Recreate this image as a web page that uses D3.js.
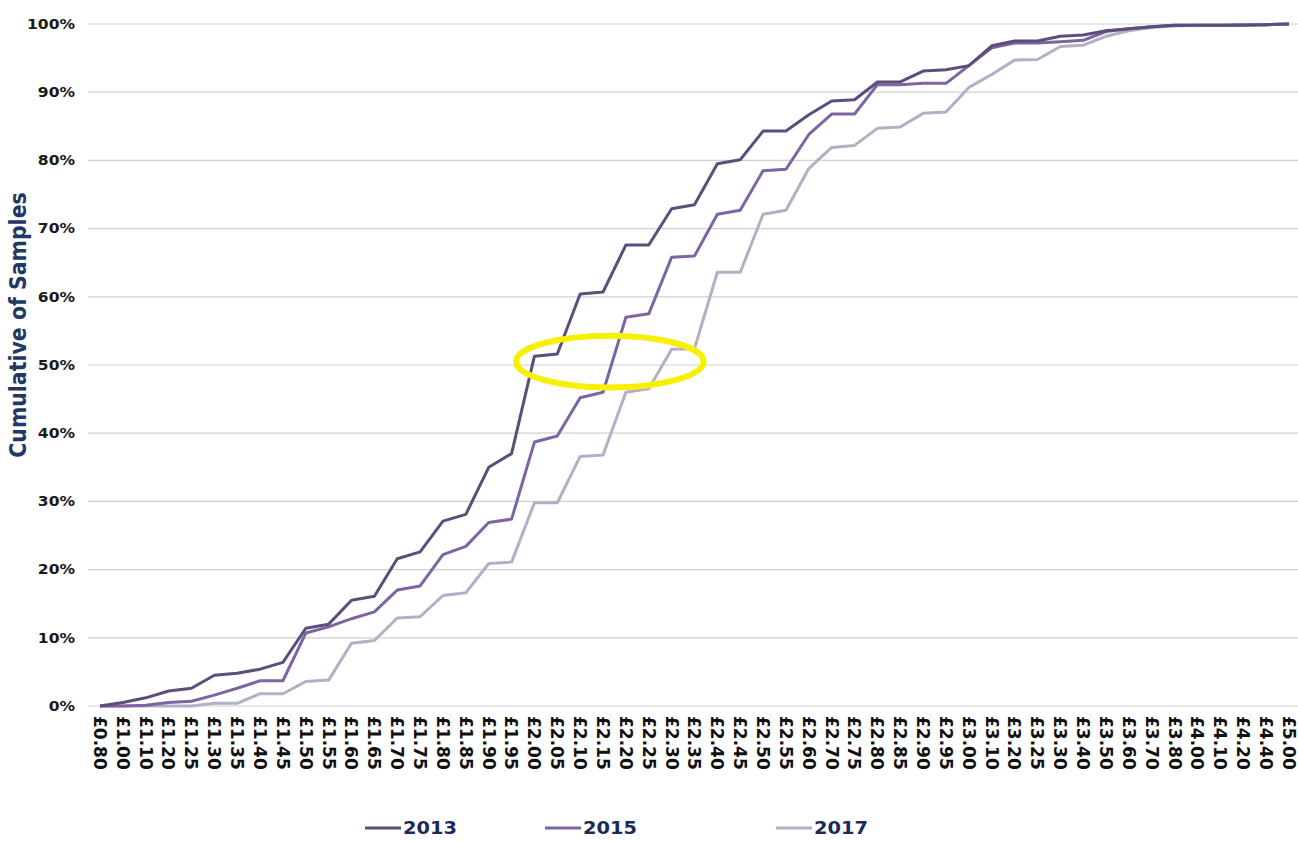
<!DOCTYPE html>
<html><head><meta charset="utf-8">
<script src="https://cdn.jsdelivr.net/npm/d3@7"></script>
<style>
body{margin:0;background:#fff;}
svg{display:block;font-family:"DejaVu Sans",Verdana,sans-serif;}
</style></head><body>
<svg id="chart" width="1298" height="841"></svg>
<script>
const categories = ["£0.80","£1.00","£1.10","£1.20","£1.25","£1.30","£1.35","£1.40","£1.45","£1.50","£1.55","£1.60","£1.65","£1.70","£1.75","£1.80","£1.85","£1.90","£1.95","£2.00","£2.05","£2.10","£2.15","£2.20","£2.25","£2.30","£2.35","£2.40","£2.45","£2.50","£2.55","£2.60","£2.70","£2.75","£2.80","£2.85","£2.90","£2.95","£3.00","£3.10","£3.20","£3.25","£3.30","£3.40","£3.50","£3.60","£3.70","£3.80","£4.00","£4.10","£4.20","£4.40","£5.00"];
const s2013 = [0,0.5,1.2,2.2,2.6,4.5,4.8,5.4,6.4,11.4,12.0,15.5,16.1,21.6,22.6,27.1,28.1,35.0,37.0,51.3,51.6,60.4,60.7,67.6,67.6,72.9,73.5,79.5,80.1,84.3,84.3,86.7,88.7,88.9,91.5,91.5,93.1,93.3,93.9,96.8,97.5,97.5,98.2,98.4,99.0,99.3,99.6,99.8,99.8,99.8,99.8,99.9,100];
const s2015 = [0,0,0.1,0.5,0.7,1.6,2.6,3.7,3.7,10.7,11.6,12.8,13.8,17.0,17.6,22.2,23.4,26.9,27.4,38.7,39.6,45.2,46.0,57.0,57.5,65.8,66.0,72.1,72.7,78.5,78.7,83.8,86.8,86.8,91.1,91.1,91.3,91.3,93.9,96.5,97.2,97.2,97.4,97.6,98.9,99.3,99.6,99.8,99.8,99.8,99.9,99.9,100];
const s2017 = [0,0,0,0,0,0.4,0.4,1.8,1.8,3.6,3.8,9.2,9.6,12.9,13.1,16.2,16.6,20.9,21.1,29.8,29.8,36.6,36.8,46.0,46.5,52.3,52.4,63.6,63.6,72.1,72.7,78.8,81.9,82.2,84.7,84.9,86.9,87.1,90.7,92.6,94.7,94.8,96.7,96.9,98.2,99.0,99.5,99.7,99.8,99.8,99.8,99.9,100];
const seriesNames = ["2013","2015","2017"];
const seriesColors = ["#5d4d7b","#7d65a3","#b5afc6"];
const yTicks = [0,10,20,30,40,50,60,70,80,90,100];
const yTitle = "Cumulative of Samples";
const highlightCenter = {cat: 22.3, value: 50.5, halfWidthCats: 4.1, halfHeightValue: 3.8};

const svg = d3.select("#chart");
const x = d3.scalePoint().domain(categories).range([100, 1289]);
const xi = d3.scaleLinear().domain([0, categories.length-1]).range([100, 1289]);
const y = d3.scaleLinear().domain([0,100]).range([706, 24]);

// gridlines
svg.append("g").selectAll("line").data(yTicks).join("line")
  .attr("x1", 88).attr("x2", 1298)
  .attr("y1", d=>y(d)).attr("y2", d=>y(d))
  .attr("stroke", "#d0d0d0").attr("stroke-width", 1.2);

// y tick labels
svg.append("g").selectAll("text").data(yTicks).join("text")
  .attr("transform", d=>`translate(75,${y(d)}) scale(1.15,1)`)
  .attr("dy","0.35em")
  .attr("text-anchor","end")
  .attr("font-size", 13.5).attr("font-weight","bold").attr("fill","#1a1a1a")
  .text(d=>d+"%");

// y title
svg.append("text")
  .attr("transform","translate(26,325) rotate(-90) scale(1,1.15)")
  .attr("text-anchor","middle")
  .attr("font-size",20.5).attr("font-weight","bold").attr("fill","#1f3864")
  .text(yTitle);

// x tick labels
svg.append("g").selectAll("text").data(categories).join("text")
  .attr("transform", d=>`translate(${x(d)},716) rotate(90)`)
  .attr("dy","0.36em")
  .attr("font-size", 17).attr("font-weight","bold").attr("fill","#111")
  .text(d=>d);

// lines
const allSeries = [s2013, s2015, s2017];
const line = d3.line().x((d,i)=>x(categories[i])).y(d=>y(d));
[2,1,0].forEach(k=>{
  svg.append("path").datum(allSeries[k])
    .attr("fill","none").attr("stroke",seriesColors[k])
    .attr("stroke-width",3).attr("stroke-linejoin","round")
    .attr("d", line);
});

// highlight ellipse
svg.append("ellipse")
  .attr("cx", xi(highlightCenter.cat))
  .attr("cy", y(highlightCenter.value))
  .attr("rx", xi(highlightCenter.halfWidthCats) - xi(0))
  .attr("ry", y(0) - y(highlightCenter.halfHeightValue))
  .attr("fill","none").attr("stroke","#f7f000").attr("stroke-width",6);

// legend
const legX = [365, 545, 776];
const lg = svg.append("g").selectAll("g").data(seriesNames).join("g")
  .attr("transform",(d,i)=>`translate(${legX[i]},828)`);
lg.append("line").attr("x1",0).attr("x2",36).attr("y1",0).attr("y2",0)
  .attr("stroke",(d,i)=>seriesColors[i]).attr("stroke-width",3);
lg.append("text").attr("transform","translate(38,0) scale(1.14,1)").attr("dy","0.36em")
  .attr("font-size",17).attr("font-weight","bold").attr("fill","#1b2a58")
  .text(d=>d);
</script>
</body></html>
